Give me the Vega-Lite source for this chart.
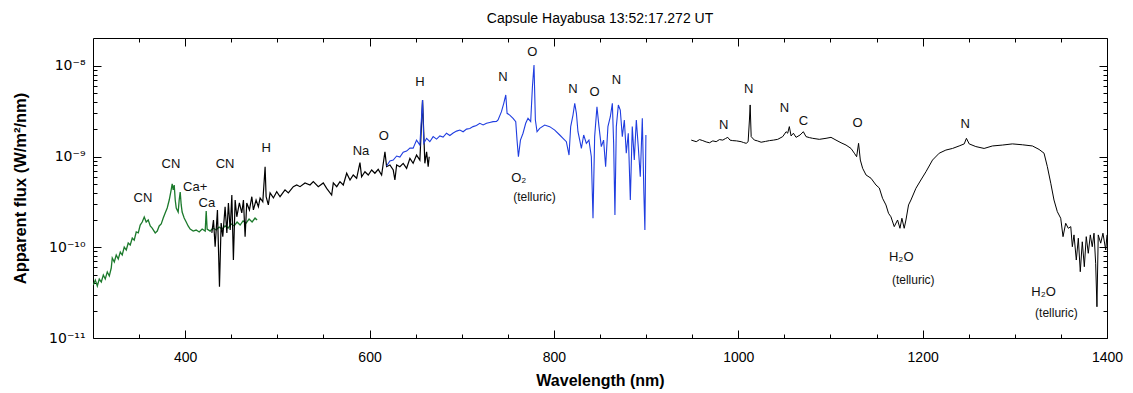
{
  "$schema": "https://vega.github.io/schema/vega-lite/v6.json",
  "width": 1014,
  "height": 300,
  "autosize": {"type": "none"},
  "padding": {"left": 93, "top": 38, "right": 26, "bottom": 55},
  "title": {"text": "Capsule Hayabusa 13:52:17.272 UT", "fontSize": 14, "fontWeight": "normal", "font": "Liberation Sans", "color": "black", "offset": 12, "frame": "group", "anchor": "middle"},
  "config": {
    "view": {"stroke": "black", "strokeWidth": 1},
    "font": "Liberation Sans",
    "axis": {"domain": false, "grid": false, "tickColor": "black", "labelColor": "black", "titleColor": "black", "tickWidth": 1, "labelFlush": false, "labelOverlap": false, "labelBound": false}
  },
  "datasets": {
    "green": [
      {"wl":300.3,"flux":3.84e-11},{"wl":302.5,"flux":4.36e-11},{"wl":304.7,"flux":3.74e-11},{"wl":306.8,"flux":4.47e-11},{"wl":309.0,"flux":4.14e-11},{"wl":311.2,"flux":4.95e-11},{"wl":313.3,"flux":4.47e-11},{"wl":315.5,"flux":5.35e-11},{"wl":317.7,"flux":4.83e-11},{"wl":319.8,"flux":5.91e-11},{"wl":320.9,"flux":7.62e-11},{"wl":323.1,"flux":6.89e-11},{"wl":325.2,"flux":8.22e-11},{"wl":327.4,"flux":7.43e-11},{"wl":329.6,"flux":8.87e-11},{"wl":331.7,"flux":8.22e-11},{"wl":333.9,"flux":1.007e-10},{"wl":336.1,"flux":9.33e-11},{"wl":338.2,"flux":1.115e-10},{"wl":340.4,"flux":1.06e-10},{"wl":342.6,"flux":1.266e-10},{"wl":344.7,"flux":1.2e-10},{"wl":346.9,"flux":1.475e-10},{"wl":349.1,"flux":1.44e-10},{"wl":351.2,"flux":1.76e-10},{"wl":353.4,"flux":1.9e-10},{"wl":355.6,"flux":2.16e-10},{"wl":357.7,"flux":1.9e-10},{"wl":359.9,"flux":2.0e-10},{"wl":362.1,"flux":1.72e-10},{"wl":364.2,"flux":1.63e-10},{"wl":367.5,"flux":1.44e-10},{"wl":369.7,"flux":1.51e-10},{"wl":371.8,"flux":1.72e-10},{"wl":374.0,"flux":1.81e-10},{"wl":376.2,"flux":2.1e-10},{"wl":378.3,"flux":2.39e-10},{"wl":380.5,"flux":2.71e-10},{"wl":382.7,"flux":3.32e-10},{"wl":384.8,"flux":4.29e-10},{"wl":385.9,"flux":4.99e-10},{"wl":387.0,"flux":4.29e-10},{"wl":388.1,"flux":4.86e-10},{"wl":389.2,"flux":3.32e-10},{"wl":390.3,"flux":2.71e-10},{"wl":392.4,"flux":2.45e-10},{"wl":393.5,"flux":3.32e-10},{"wl":394.6,"flux":4.07e-10},{"wl":395.7,"flux":2.93e-10},{"wl":396.7,"flux":2.45e-10},{"wl":398.9,"flux":2.1e-10},{"wl":401.1,"flux":1.9e-10},{"wl":403.2,"flux":1.72e-10},{"wl":405.4,"flux":1.59e-10},{"wl":408.7,"flux":1.51e-10},{"wl":411.9,"flux":1.55e-10},{"wl":415.2,"flux":1.475e-10},{"wl":418.4,"flux":1.59e-10},{"wl":421.7,"flux":1.51e-10},{"wl":422.8,"flux":2.51e-10},{"wl":423.8,"flux":1.59e-10},{"wl":427.1,"flux":1.51e-10},{"wl":430.3,"flux":1.63e-10},{"wl":433.6,"flux":1.55e-10},{"wl":436.8,"flux":1.67e-10},{"wl":440.1,"flux":1.59e-10},{"wl":443.3,"flux":1.72e-10},{"wl":446.6,"flux":1.63e-10},{"wl":449.8,"flux":1.81e-10},{"wl":453.1,"flux":1.72e-10},{"wl":456.3,"flux":1.9e-10},{"wl":459.6,"flux":1.76e-10},{"wl":462.8,"flux":1.95e-10},{"wl":466.1,"flux":1.85e-10},{"wl":469.3,"flux":2.05e-10},{"wl":472.6,"flux":1.9e-10},{"wl":475.8,"flux":2.1e-10},{"wl":478.0,"flux":2.0e-10}
    ],
    "black1": [
      {"wl":428.9,"flux":1.44e-10},{"wl":430.7,"flux":2.0e-10},{"wl":432.5,"flux":1.015e-10},{"wl":435.0,"flux":2.58e-10},{"wl":437.2,"flux":3.68e-11},{"wl":439.0,"flux":1.85e-10},{"wl":440.8,"flux":1.31e-10},{"wl":443.3,"flux":2.8e-10},{"wl":445.2,"flux":1.44e-10},{"wl":446.9,"flux":3.08e-10},{"wl":448.8,"flux":1.55e-10},{"wl":450.6,"flux":3.77e-10},{"wl":452.3,"flux":7.24e-11},{"wl":454.2,"flux":3.32e-10},{"wl":456.0,"flux":2.17e-10},{"wl":458.8,"flux":3.08e-10},{"wl":461.4,"flux":2.39e-10},{"wl":463.2,"flux":3.32e-10},{"wl":465.0,"flux":1.31e-10},{"wl":466.8,"flux":3.08e-10},{"wl":469.7,"flux":2.58e-10},{"wl":472.3,"flux":3.61e-10},{"wl":474.0,"flux":2.58e-10},{"wl":476.9,"flux":3.32e-10},{"wl":479.4,"flux":2.8e-10},{"wl":481.3,"flux":3.5e-10},{"wl":484.2,"flux":3.18e-10},{"wl":486.7,"flux":7.74e-10},{"wl":487.8,"flux":3.61e-10},{"wl":490.2,"flux":2.93e-10},{"wl":492.1,"flux":3.97e-10},{"wl":495.7,"flux":3.5e-10},{"wl":499.3,"flux":4.1e-10},{"wl":502.9,"flux":3.61e-10},{"wl":508.3,"flux":4.29e-10},{"wl":511.9,"flux":3.97e-10},{"wl":517.3,"flux":4.66e-10},{"wl":521.0,"flux":4.86e-10},{"wl":524.6,"flux":4.66e-10},{"wl":530.0,"flux":5.12e-10},{"wl":535.4,"flux":4.86e-10},{"wl":539.0,"flux":5.29e-10},{"wl":544.4,"flux":4.66e-10},{"wl":549.8,"flux":5.12e-10},{"wl":553.5,"flux":4.47e-10},{"wl":558.9,"flux":3.77e-10},{"wl":560.7,"flux":5.12e-10},{"wl":564.4,"flux":4.66e-10},{"wl":567.9,"flux":5.29e-10},{"wl":571.5,"flux":4.86e-10},{"wl":575.2,"flux":6.55e-10},{"wl":578.8,"flux":5.52e-10},{"wl":582.3,"flux":6.27e-10},{"wl":586.0,"flux":5.77e-10},{"wl":589.6,"flux":8.57e-10},{"wl":591.4,"flux":6.0e-10},{"wl":595.0,"flux":6.81e-10},{"wl":598.6,"flux":6.27e-10},{"wl":602.3,"flux":7.11e-10},{"wl":605.8,"flux":6.55e-10},{"wl":609.4,"flux":7.24e-10},{"wl":613.1,"flux":6.27e-10},{"wl":616.7,"flux":1.13e-9},{"wl":618.5,"flux":7.74e-10},{"wl":622.1,"flux":8.07e-10},{"wl":625.7,"flux":7.11e-10},{"wl":627.5,"flux":5.52e-10},{"wl":629.4,"flux":8.07e-10},{"wl":632.9,"flux":7.74e-10},{"wl":636.5,"flux":8.43e-10},{"wl":640.2,"flux":7.43e-10},{"wl":643.8,"flux":9.57e-10},{"wl":647.3,"flux":8.43e-10},{"wl":651.0,"flux":1.04e-9},{"wl":654.6,"flux":9.16e-10},{"wl":657.5,"flux":4.21e-9},{"wl":660.0,"flux":8.43e-10},{"wl":661.9,"flux":1.13e-9},{"wl":663.6,"flux":7.74e-10},{"wl":664.7,"flux":9.97e-10}
    ],
    "blue": [
      {"wl":618.5,"flux":7.87e-10},{"wl":622.1,"flux":8.93e-10},{"wl":625.7,"flux":9.16e-10},{"wl":629.4,"flux":1.015e-9},{"wl":632.9,"flux":9.9e-10},{"wl":636.5,"flux":1.12e-9},{"wl":640.2,"flux":1.15e-9},{"wl":643.8,"flux":1.24e-9},{"wl":647.3,"flux":1.24e-9},{"wl":651.0,"flux":1.52e-9},{"wl":654.6,"flux":1.34e-9},{"wl":657.5,"flux":4.21e-9},{"wl":658.9,"flux":1.4e-9},{"wl":661.9,"flux":1.59e-9},{"wl":665.4,"flux":1.46e-9},{"wl":669.0,"flux":1.66e-9},{"wl":672.7,"flux":1.56e-9},{"wl":676.3,"flux":1.69e-9},{"wl":679.8,"flux":1.64e-9},{"wl":683.5,"flux":1.81e-9},{"wl":687.1,"flux":1.71e-9},{"wl":690.7,"flux":1.82e-9},{"wl":694.4,"flux":1.91e-9},{"wl":698.0,"flux":1.96e-9},{"wl":701.5,"flux":1.88e-9},{"wl":705.2,"flux":2.01e-9},{"wl":708.8,"flux":2.04e-9},{"wl":712.3,"flux":2.14e-9},{"wl":716.0,"flux":2.2e-9},{"wl":719.6,"flux":2.33e-9},{"wl":723.2,"flux":2.23e-9},{"wl":726.9,"flux":2.33e-9},{"wl":730.4,"flux":2.38e-9},{"wl":734.0,"flux":2.43e-9},{"wl":737.7,"flux":2.44e-9},{"wl":739.4,"flux":2.53e-9},{"wl":743.1,"flux":3.13e-9},{"wl":745.6,"flux":3.87e-9},{"wl":747.8,"flux":4.78e-9},{"wl":749.2,"flux":3.0e-9},{"wl":752.1,"flux":2.87e-9},{"wl":755.7,"flux":2.64e-9},{"wl":758.6,"flux":2.43e-9},{"wl":760.0,"flux":1.52e-9},{"wl":761.5,"flux":9.97e-10},{"wl":763.7,"flux":1.52e-9},{"wl":766.5,"flux":1.81e-9},{"wl":769.4,"flux":2.33e-9},{"wl":771.9,"flux":2.64e-9},{"wl":774.8,"flux":2.43e-9},{"wl":776.7,"flux":5.9e-9},{"wl":778.4,"flux":1.023e-8},{"wl":779.9,"flux":2.53e-9},{"wl":781.7,"flux":1.88e-9},{"wl":784.6,"flux":2.05e-9},{"wl":790.0,"flux":2.23e-9},{"wl":795.4,"flux":2.14e-9},{"wl":800.9,"flux":1.96e-9},{"wl":806.3,"flux":1.73e-9},{"wl":809.9,"flux":1.59e-9},{"wl":813.5,"flux":1.46e-9},{"wl":816.4,"flux":1.04e-9},{"wl":818.2,"flux":2.14e-9},{"wl":820.7,"flux":2.87e-9},{"wl":822.6,"flux":3.87e-9},{"wl":824.4,"flux":3.0e-9},{"wl":826.1,"flux":1.88e-9},{"wl":828.0,"flux":1.52e-9},{"wl":829.8,"flux":1.23e-9},{"wl":832.3,"flux":1.73e-9},{"wl":835.2,"flux":1.4e-9},{"wl":838.0,"flux":1.52e-9},{"wl":840.6,"flux":9.97e-10},{"wl":842.4,"flux":2.09e-10},{"wl":844.2,"flux":1.66e-9},{"wl":846.7,"flux":3.55e-9},{"wl":848.9,"flux":2.14e-9},{"wl":851.4,"flux":1.29e-9},{"wl":853.9,"flux":1.52e-9},{"wl":856.1,"flux":7.74e-10},{"wl":858.6,"flux":2.14e-9},{"wl":861.2,"flux":2.75e-9},{"wl":863.4,"flux":3.87e-9},{"wl":864.8,"flux":1.4e-9},{"wl":866.2,"flux":2.27e-10},{"wl":867.7,"flux":2.14e-9},{"wl":869.9,"flux":3.71e-9},{"wl":872.0,"flux":3.26e-9},{"wl":874.2,"flux":1.66e-9},{"wl":876.4,"flux":2.53e-9},{"wl":878.5,"flux":1.09e-9},{"wl":880.7,"flux":1.81e-9},{"wl":882.9,"flux":3.32e-10},{"wl":885.0,"flux":2.14e-9},{"wl":887.2,"flux":9.16e-10},{"wl":889.4,"flux":2.53e-9},{"wl":891.5,"flux":1.29e-9},{"wl":893.7,"flux":6.0e-10},{"wl":895.9,"flux":2.64e-9},{"wl":897.6,"flux":3.94e-10},{"wl":898.7,"flux":1.55e-10},{"wl":899.8,"flux":1.73e-9}
    ],
    "black2": [
      {"wl":949.0,"flux":1.52e-9},{"wl":954.4,"flux":1.46e-9},{"wl":958.0,"flux":1.54e-9},{"wl":961.5,"flux":1.5e-9},{"wl":965.2,"flux":1.45e-9},{"wl":968.8,"flux":1.42e-9},{"wl":972.4,"flux":1.49e-9},{"wl":976.0,"flux":1.46e-9},{"wl":979.6,"flux":1.54e-9},{"wl":983.2,"flux":1.52e-9},{"wl":986.1,"flux":1.58e-9},{"wl":988.6,"flux":1.63e-9},{"wl":991.0,"flux":1.52e-9},{"wl":994.0,"flux":1.5e-9},{"wl":998.1,"flux":1.49e-9},{"wl":1003.1,"flux":1.46e-9},{"wl":1005.6,"flux":1.43e-9},{"wl":1008.6,"flux":1.4e-9},{"wl":1010.7,"flux":1.46e-9},{"wl":1012.1,"flux":2.53e-9},{"wl":1012.9,"flux":3.71e-9},{"wl":1014.0,"flux":1.66e-9},{"wl":1017.5,"flux":1.52e-9},{"wl":1020.8,"flux":1.49e-9},{"wl":1024.8,"flux":1.44e-9},{"wl":1029.5,"flux":1.47e-9},{"wl":1033.8,"flux":1.5e-9},{"wl":1038.2,"flux":1.52e-9},{"wl":1042.8,"flux":1.55e-9},{"wl":1048.2,"flux":1.66e-9},{"wl":1051.9,"flux":1.88e-9},{"wl":1053.6,"flux":1.81e-9},{"wl":1055.4,"flux":2.14e-9},{"wl":1057.3,"flux":1.69e-9},{"wl":1059.8,"flux":1.81e-9},{"wl":1062.7,"flux":1.63e-9},{"wl":1067.0,"flux":1.73e-9},{"wl":1070.6,"flux":1.88e-9},{"wl":1073.5,"flux":1.66e-9},{"wl":1077.1,"flux":1.62e-9},{"wl":1080.7,"flux":1.59e-9},{"wl":1087.9,"flux":1.55e-9},{"wl":1095.2,"flux":1.59e-9},{"wl":1100.6,"flux":1.63e-9},{"wl":1106.0,"flux":1.52e-9},{"wl":1111.5,"flux":1.42e-9},{"wl":1116.9,"flux":1.34e-9},{"wl":1122.3,"flux":1.23e-9},{"wl":1125.9,"flux":1.09e-9},{"wl":1128.4,"flux":9.97e-10},{"wl":1130.5,"flux":1.4e-9},{"wl":1132.4,"flux":9.16e-10},{"wl":1134.9,"flux":7.43e-10},{"wl":1138.6,"flux":6.27e-10},{"wl":1144.0,"flux":5.77e-10},{"wl":1149.4,"flux":4.86e-10},{"wl":1153.0,"flux":4.51e-10},{"wl":1156.5,"flux":3.47e-10},{"wl":1160.2,"flux":2.93e-10},{"wl":1163.0,"flux":2.37e-10},{"wl":1165.6,"flux":2.17e-10},{"wl":1169.2,"flux":1.69e-10},{"wl":1172.8,"flux":2.0e-10},{"wl":1175.4,"flux":1.62e-10},{"wl":1177.5,"flux":2.09e-10},{"wl":1180.0,"flux":1.62e-10},{"wl":1181.9,"flux":2.0e-10},{"wl":1184.7,"flux":2.93e-10},{"wl":1187.3,"flux":3.32e-10},{"wl":1192.7,"flux":4.47e-10},{"wl":1198.1,"flux":5.52e-10},{"wl":1203.6,"flux":6.81e-10},{"wl":1210.7,"flux":9.16e-10},{"wl":1218.0,"flux":1.09e-9},{"wl":1225.2,"flux":1.18e-9},{"wl":1232.4,"flux":1.23e-9},{"wl":1239.6,"flux":1.31e-9},{"wl":1245.1,"flux":1.38e-9},{"wl":1247.5,"flux":1.59e-9},{"wl":1250.5,"flux":1.38e-9},{"wl":1257.7,"flux":1.29e-9},{"wl":1266.7,"flux":1.23e-9},{"wl":1275.7,"flux":1.31e-9},{"wl":1286.5,"flux":1.34e-9},{"wl":1297.4,"flux":1.38e-9},{"wl":1308.2,"flux":1.35e-9},{"wl":1319.1,"flux":1.31e-9},{"wl":1326.3,"flux":1.2e-9},{"wl":1331.7,"flux":1.09e-9},{"wl":1335.3,"flux":7.74e-10},{"wl":1339.0,"flux":5.08e-10},{"wl":1342.5,"flux":3.32e-10},{"wl":1346.1,"flux":2.47e-10},{"wl":1349.8,"flux":2.09e-10},{"wl":1352.3,"flux":1.31e-10},{"wl":1355.2,"flux":1.84e-10},{"wl":1358.0,"flux":1.62e-10},{"wl":1360.7,"flux":1.69e-10},{"wl":1362.4,"flux":1.015e-10},{"wl":1364.2,"flux":1.37e-10},{"wl":1366.7,"flux":7.24e-11},{"wl":1368.9,"flux":1.26e-10},{"wl":1371.0,"flux":5.38e-11},{"wl":1373.2,"flux":1.15e-10},{"wl":1375.4,"flux":6.11e-11},{"wl":1377.5,"flux":1.31e-10},{"wl":1379.7,"flux":8.59e-11},{"wl":1381.9,"flux":1.37e-10},{"wl":1384.0,"flux":1.015e-10},{"wl":1385.9,"flux":1.43e-10},{"wl":1387.7,"flux":6.66e-11},{"wl":1389.1,"flux":2.21e-11},{"wl":1390.5,"flux":1.37e-10},{"wl":1393.2,"flux":1.11e-10},{"wl":1395.6,"flux":1.43e-10},{"wl":1398.6,"flux":9.33e-11},{"wl":1400.0,"flux":1.37e-10}
    ],
    "labels": [
      {"wl":354.2,"flux":3.47e-10,"t":"CN"},{"wl":384.5,"flux":8.28e-10,"t":"CN"},{"wl":410.8,"flux":4.66e-10,"t":"Ca+"},{"wl":423.5,"flux":3.1e-10,"t":"Ca"},{"wl":443.3,"flux":8.28e-10,"t":"CN"},{"wl":487.8,"flux":1.23e-9,"t":"H"},{"wl":590.7,"flux":1.16e-9,"t":"Na"},{"wl":615.6,"flux":1.69e-9,"t":"O"},{"wl":654.6,"flux":6.69e-9,"t":"H"},{"wl":744.8,"flux":7.6e-9,"t":"N"},{"wl":776.7,"flux":1.434e-8,"t":"O"},{"wl":820.7,"flux":5.52e-9,"t":"N"},{"wl":844.2,"flux":5.19e-9,"t":"O"},{"wl":867.7,"flux":6.99e-9,"t":"N"},{"wl":761.9,"flux":5.81e-10,"t":"O₂"},{"wl":778.9,"flux":3.59e-10,"t":"(telluric)"},{"wl":984.3,"flux":2.23e-9,"t":"N"},{"wl":1011.4,"flux":5.52e-9,"t":"N"},{"wl":1050.0,"flux":3.41e-9,"t":"N"},{"wl":1070.6,"flux":2.49e-9,"t":"C"},{"wl":1129.5,"flux":2.33e-9,"t":"O"},{"wl":1246.1,"flux":2.29e-9,"t":"N"},{"wl":1176.8,"flux":7.82e-11,"t":"H₂O"},{"wl":1189.8,"flux":4.36e-11,"t":"(telluric)"},{"wl":1331.2,"flux":3.21e-11,"t":"H₂O"},{"wl":1345.1,"flux":1.87e-11,"t":"(telluric)"}
    ]
  },
  "resolve": {"axis": {"x": "independent", "y": "independent"}},
  "layer": [
    {
      "data": {"name": "green"},
      "mark": {"type": "line", "color": "#1c7a2c", "strokeWidth": 1.3, "clip": true},
      "encoding": {
        "x": {"field": "wl", "type": "quantitative", "scale": {"domain": [300, 1400], "nice": false, "zero": false},
              "axis": {"orient": "bottom", "values": [400, 600, 800, 1000, 1200, 1400], "format": "d", "tickSize": -8, "labelPadding": 20, "labelFontSize": 14, "title": "Wavelength (nm)", "titleFontSize": 16, "titleFontWeight": "bold", "titlePadding": 8}},
        "y": {"field": "flux", "type": "quantitative", "scale": {"type": "log", "domain": [1e-11, 2.03e-8], "nice": false},
              "axis": {"orient": "left", "values": [1e-11, 1e-10, 1e-9, 1e-8], "tickSize": -8, "labelPadding": 16, "labelFont": "DejaVu Sans", "labelFontSize": 14, "labelExpr": "datum.value < 5e-11 ? '10⁻¹¹' : datum.value < 5e-10 ? '10⁻¹⁰' : datum.value < 5e-9 ? '10⁻⁹' : '10⁻⁸'", "title": "Apparent flux (W/m²/nm)", "titleFontSize": 16.5, "titleFontWeight": "bold", "titlePadding": 20}}
      }
    },
    {
      "data": {"name": "black1"},
      "mark": {"type": "line", "color": "black", "strokeWidth": 1.2, "clip": true},
      "encoding": {
        "x": {"field": "wl", "type": "quantitative", "scale": {"domain": [300, 1400], "nice": false, "zero": false},
              "axis": {"orient": "bottom", "values": [350, 450, 500, 550, 650, 700, 750, 850, 900, 950, 1050, 1100, 1150, 1250, 1300, 1350], "tickSize": -4, "labels": false, "title": null}},
        "y": {"field": "flux", "type": "quantitative", "scale": {"type": "log", "domain": [1e-11, 2.03e-8], "nice": false},
              "axis": {"orient": "left", "values": [2e-11, 3e-11, 4e-11, 5e-11, 6e-11, 7e-11, 8e-11, 9e-11, 2e-10, 3e-10, 4e-10, 5e-10, 6e-10, 7e-10, 8e-10, 9e-10, 2e-9, 3e-9, 4e-9, 5e-9, 6e-9, 7e-9, 8e-9, 9e-9], "tickSize": -4, "labels": false, "title": null}}
      }
    },
    {
      "data": {"name": "blue"},
      "mark": {"type": "line", "color": "#1f3de0", "strokeWidth": 1.1, "clip": true},
      "encoding": {
        "x": {"field": "wl", "type": "quantitative", "scale": {"domain": [300, 1400], "nice": false, "zero": false},
              "axis": {"orient": "top", "values": [400, 600, 800, 1000, 1200, 1400], "tickSize": -8, "labels": false, "title": null}},
        "y": {"field": "flux", "type": "quantitative", "scale": {"type": "log", "domain": [1e-11, 2.03e-8], "nice": false},
              "axis": {"orient": "right", "values": [1e-11, 1e-10, 1e-9, 1e-8], "tickSize": -8, "labels": false, "title": null}}
      }
    },
    {
      "data": {"name": "black2"},
      "mark": {"type": "line", "color": "black", "strokeWidth": 1, "clip": true},
      "encoding": {
        "x": {"field": "wl", "type": "quantitative", "scale": {"domain": [300, 1400], "nice": false, "zero": false},
              "axis": {"orient": "top", "values": [350, 450, 500, 550, 650, 700, 750, 850, 900, 950, 1050, 1100, 1150, 1250, 1300, 1350], "tickSize": -4, "labels": false, "title": null}},
        "y": {"field": "flux", "type": "quantitative", "scale": {"type": "log", "domain": [1e-11, 2.03e-8], "nice": false},
              "axis": {"orient": "right", "values": [2e-11, 3e-11, 4e-11, 5e-11, 6e-11, 7e-11, 8e-11, 9e-11, 2e-10, 3e-10, 4e-10, 5e-10, 6e-10, 7e-10, 8e-10, 9e-10, 2e-9, 3e-9, 4e-9, 5e-9, 6e-9, 7e-9, 8e-9, 9e-9], "tickSize": -4, "labels": false, "title": null}}
      }
    },
    {
      "data": {"name": "labels"},
      "mark": {"type": "text", "align": "center", "baseline": "middle", "color": "#111111", "font": "Liberation Sans"},
      "encoding": {
        "x": {"field": "wl", "type": "quantitative", "scale": {"domain": [300, 1400], "nice": false, "zero": false}, "axis": null},
        "y": {"field": "flux", "type": "quantitative", "scale": {"type": "log", "domain": [1e-11, 2.03e-8], "nice": false}, "axis": null},
        "text": {"field": "t"},
        "size": {"condition": {"test": "datum.t == '(telluric)'", "value": 12}, "value": 13}
      }
    }
  ]
}
